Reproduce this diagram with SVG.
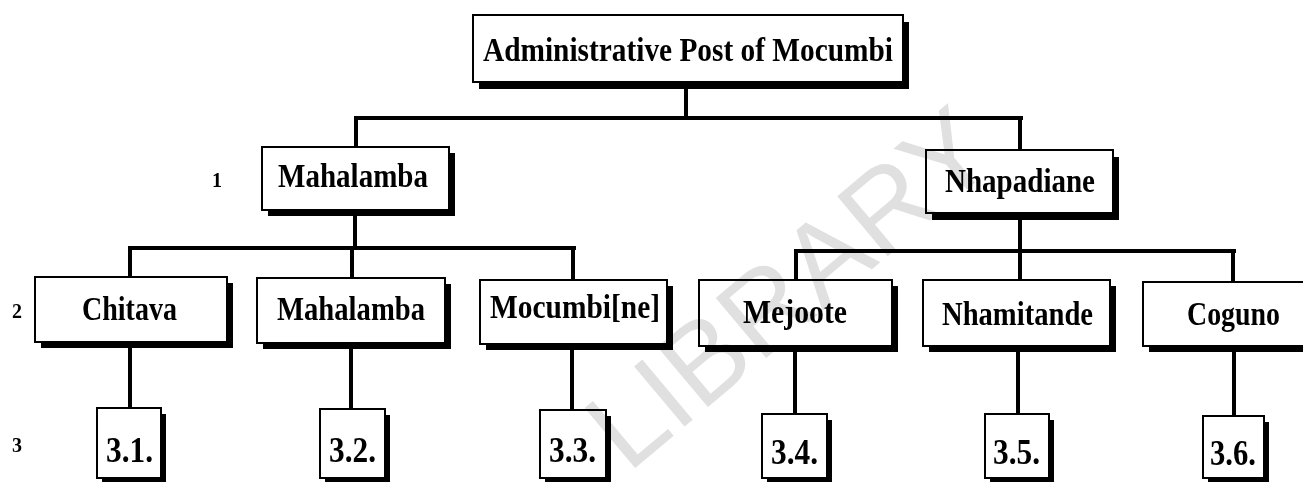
<svg xmlns="http://www.w3.org/2000/svg" width="1303" height="482" viewBox="0 0 1303 482">
<style>
.box{fill:#fff;stroke:#000;stroke-width:2}
.sh{fill:#000}
.t{font-family:"Liberation Serif","Times New Roman",serif;font-weight:bold;font-size:33px;fill:#000}
.s{font-size:35px}
.lv{font-family:"Liberation Serif","Times New Roman",serif;font-weight:bold;font-size:20px;fill:#000}
.c{fill:none;stroke:#000;stroke-width:4;stroke-linecap:square}
.wm{font-family:"Liberation Sans",Arial,sans-serif;font-size:114px;fill:#e0e0e0;mix-blend-mode:multiply}
</style>
<rect width="1303" height="482" fill="#fff"/>
<g id="connectors">
<path class="c" d="M686 88V118M356 118H1021M356 118V147M1020 118V150"/>
<path class="c" d="M355 216V248M130 248H574M130 248V277M352 248V278M573 248V280"/>
<path class="c" d="M1020 220V251M796 251H1234M796 251V280M1020 251V280M1233 251V282"/>
<path class="c" d="M130 348V408M351 349V409M572 350V410M795 352V414M1018 352V414M1234 352V416"/>
</g>
<g id="labels">
<text class="lv" x="212" y="187">1</text>
<text class="lv" x="12" y="318">2</text>
<text class="lv" x="12" y="452">3</text>
</g>
<g id="n-root"><rect class="sh" x="479" y="22" width="430" height="67"/><rect class="box" x="473" y="15" width="430" height="67"/><text class="t" x="483" y="61" font-size="36" textLength="410" lengthAdjust="spacingAndGlyphs">Administrative Post of Mocumbi</text></g>
<g id="n-mahalamba1"><rect class="sh" x="268" y="153" width="187" height="63"/><rect class="box" x="262" y="147" width="187" height="63"/><text class="t" x="278" y="187" textLength="150" lengthAdjust="spacingAndGlyphs">Mahalamba</text></g>
<g id="n-nhapadiane"><rect class="sh" x="932" y="157" width="187" height="63"/><rect class="box" x="926" y="150" width="187" height="63"/><text class="t" x="945" y="192" textLength="150" lengthAdjust="spacingAndGlyphs">Nhapadiane</text></g>
<g id="n-chitava"><rect class="sh" x="41" y="283" width="192" height="65"/><rect class="box" x="35" y="277" width="192" height="65"/><text class="t" x="82" y="320" textLength="95" lengthAdjust="spacingAndGlyphs">Chitava</text></g>
<g id="n-mahalamba2"><rect class="sh" x="263" y="284" width="188" height="65"/><rect class="box" x="257" y="278" width="188" height="65"/><text class="t" x="277" y="320" textLength="148" lengthAdjust="spacingAndGlyphs">Mahalamba</text></g>
<g id="n-mocumbine"><rect class="sh" x="486" y="286" width="187" height="64"/><rect class="box" x="480" y="280" width="187" height="64"/><text class="t" x="490" y="318" textLength="170" lengthAdjust="spacingAndGlyphs">Mocumbi[ne]</text></g>
<g id="n-mejoote"><rect class="sh" x="705" y="286" width="193" height="66"/><rect class="box" x="699" y="280" width="193" height="66"/><text class="t" x="743" y="323" textLength="104" lengthAdjust="spacingAndGlyphs">Mejoote</text></g>
<g id="n-nhamitande"><rect class="sh" x="929" y="286" width="187" height="66"/><rect class="box" x="923" y="280" width="187" height="66"/><text class="t" x="942" y="325" textLength="151" lengthAdjust="spacingAndGlyphs">Nhamitande</text></g>
<g id="n-coguno"><rect class="sh" x="1149" y="288" width="170" height="64"/><rect class="box" x="1143" y="282" width="170" height="64"/><text class="t" x="1187" y="325" textLength="93" lengthAdjust="spacingAndGlyphs">Coguno</text></g>
<g id="n-3-1"><rect class="sh" x="102" y="414" width="64" height="70"/><rect class="box" x="97" y="408" width="64" height="70"/><text class="t s" x="106" y="462" textLength="47" lengthAdjust="spacingAndGlyphs">3.1.</text></g>
<g id="n-3-2"><rect class="sh" x="325" y="415" width="65" height="69"/><rect class="box" x="320" y="409" width="65" height="69"/><text class="t s" x="329" y="462" textLength="47" lengthAdjust="spacingAndGlyphs">3.2.</text></g>
<g id="n-3-3"><rect class="sh" x="545" y="416" width="66" height="68"/><rect class="box" x="540" y="410" width="66" height="68"/><text class="t s" x="549" y="462" textLength="47" lengthAdjust="spacingAndGlyphs">3.3.</text></g>
<g id="n-3-4"><rect class="sh" x="767" y="420" width="65" height="64"/><rect class="box" x="762" y="414" width="65" height="64"/><text class="t s" x="771" y="464" textLength="47" lengthAdjust="spacingAndGlyphs">3.4.</text></g>
<g id="n-3-5"><rect class="sh" x="990" y="420" width="64" height="64"/><rect class="box" x="985" y="414" width="64" height="64"/><text class="t s" x="993" y="464" textLength="47" lengthAdjust="spacingAndGlyphs">3.5.</text></g>
<g id="n-3-6"><rect class="sh" x="1208" y="422" width="61" height="62"/><rect class="box" x="1203" y="416" width="61" height="62"/><text class="t s" x="1210" y="465" textLength="46" lengthAdjust="spacingAndGlyphs">3.6.</text></g>
<text class="wm" transform="translate(628,474) rotate(-40)">LIBRARY</text>
</svg>
